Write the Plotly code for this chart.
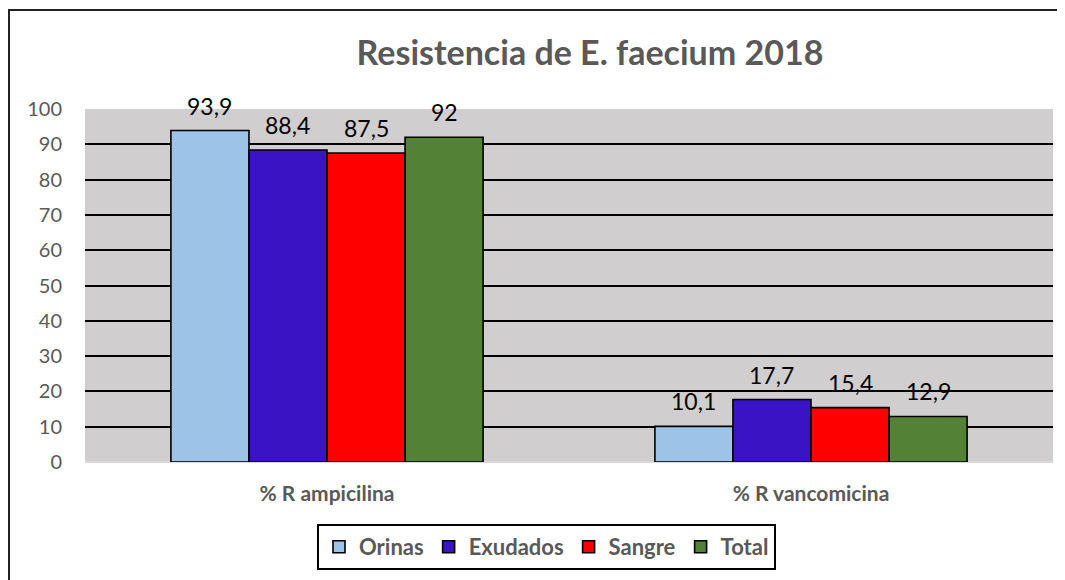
import plotly.graph_objects as go

categories = ["% R ampicilina", "% R vancomicina"]
series_names = ["Orinas", "Exudados", "Sangre", "Total"]
orinas = [93.9, 10.1]
exudados = [88.4, 17.7]
sangre = [87.5, 15.4]
total = [92, 12.9]
colors = ["#9DC3E6", "#3A14C4", "#FF0000", "#538135"]
y_ticks = [0, 10, 20, 30, 40, 50, 60, 70, 80, 90, 100]

FONT = "Lato"
GRAY = "#595959"
S = 8  # page body margin offset

def fmt(v):
    return ("%g" % v).replace(".", ",")

W, H = 1065 - S, 580 - S
L, R, T, B = 85 - S, 12, 109 - S, 118
pw, ph = W - L - R, H - T - B
BARGAP = 0.355
cat_w = pw / len(categories)
bar_w = cat_w * (1 - BARGAP) / len(series_names)

def px(x):
    return (x - S - L) / pw

def py(y):
    return (H - B - (y - S)) / ph

fig = go.Figure()
all_vals = [orinas, exudados, sangre, total]
for i, (name, vals, col) in enumerate(zip(series_names, all_vals, colors)):
    fig.add_trace(go.Bar(
        name=name, x=categories, y=vals,
        marker=dict(color=col, line=dict(color="black", width=1.6)),
    ))
    for c, v in zip(categories, vals):
        fig.add_annotation(x=c, y=v, text=fmt(v), showarrow=False,
                           xshift=(i - 1.5) * bar_w, yshift=9, yanchor="bottom",
                           font=dict(family=FONT, size=23, color="black"))

fig.update_layout(
    width=W, height=H,
    margin=dict(l=L, r=R, t=T, b=B, autoexpand=False),
    paper_bgcolor="white", plot_bgcolor="#D0CECE",
    barmode="group", bargap=BARGAP, bargroupgap=0,
    font=dict(family=FONT, color=GRAY),
    title=dict(text="Resistencia de E. faecium 2018", x=(590 - S) / W, y=1 - (53 - S) / H,
               xref="container", yref="container", xanchor="center", yanchor="middle",
               font=dict(family=FONT, size=34, color=GRAY, weight="bold")),
    legend=dict(orientation="h", x=px(546.5), y=py(524), xanchor="center", yanchor="top",
                bordercolor="black", borderwidth=2, bgcolor="white",
                font=dict(family=FONT, size=22, color=GRAY, weight="bold"),
                itemwidth=30, traceorder="normal"),
    showlegend=True,
)
fig.update_yaxes(range=[0, 100], tickvals=y_ticks, showgrid=True, gridcolor="black", gridwidth=1.6,
                 zeroline=True, zerolinecolor="#D9D9D9", zerolinewidth=2, showline=False,
                 ticks="", ticklabelstandoff=22,
                 tickfont=dict(family=FONT, size=20, color=GRAY))
fig.update_xaxes(showgrid=False, showline=False, ticks="", ticklabelstandoff=17,
                 tickfont=dict(family=FONT, size=21, color=GRAY, weight="bold"))

fig.add_shape(type="rect", xref="paper", yref="paper",
              x0=px(9), x1=px(1080), y0=py(600), y1=py(10),
              line=dict(color="#222222", width=2), fillcolor="rgba(0,0,0,0)", layer="below")

fig.write_html("out.html")
